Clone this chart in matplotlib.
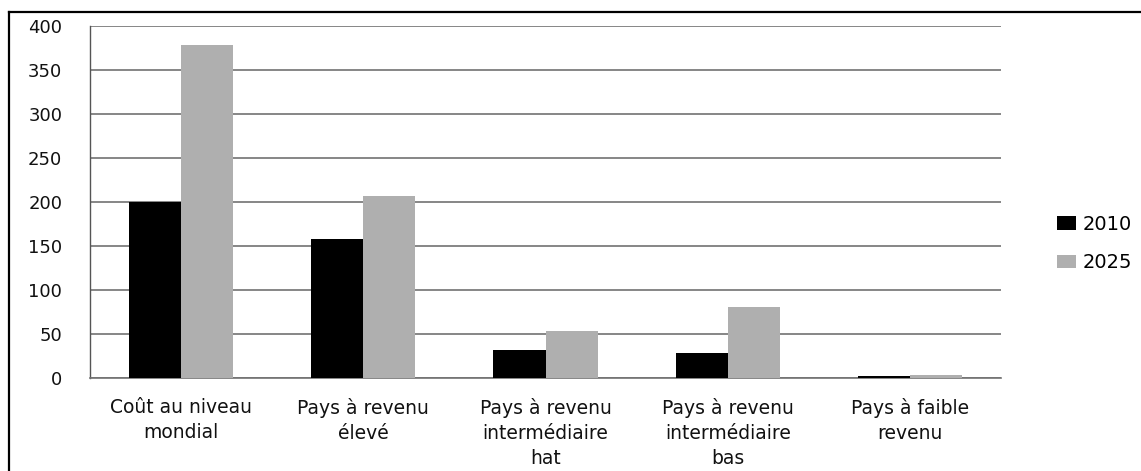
import numpy as np
import matplotlib
matplotlib.use('Agg')
from matplotlib import pyplot as plt
from matplotlib.lines import Line2D

# Coût (milliards) par groupe de pays
categories = ['Coût au niveau\nmondial', 'Pays à revenu\nélevé',
              'Pays à revenu\nintermédiaire\nhat', 'Pays à revenu\nintermédiaire\nbas',
              'Pays à faible\nrevenu']
val_2010 = [200, 158, 31, 28, 2]
val_2025 = [378, 207, 53, 80, 3]
series_names = ['2010', '2025']
yticks = [0, 50, 100, 150, 200, 250, 300, 350, 400]

plt.rcParams['font.family'] = ['DejaVu Sans']

fig = plt.figure(figsize=(11.41, 4.71), dpi=100)
ax = fig.add_axes([90/1141, 1 - 377.7/471, 911/1141, 352/471])

x = np.arange(len(categories))
w = 0.286
b1 = ax.bar(x - w/2, val_2010, w, color='black', zorder=3, label=series_names[0])
b2 = ax.bar(x + w/2, val_2025, w, color='#afafaf', zorder=3, label=series_names[1])

ax.set_xlim(-0.5, len(categories) - 0.5)
ax.set_ylim(0, 400)
ax.set_yticks(yticks)
ax.set_yticklabels([str(t) for t in yticks], fontsize=13, color='#111111')
ax.set_xticks(x)
ax.set_xticklabels(categories, fontsize=13.5, color='#111111', linespacing=1.4)
ax.tick_params(axis='y', length=0, pad=20)
ax.tick_params(axis='x', length=0, pad=14.5)

ax.grid(axis='y', color='#727272', linewidth=1.2, zorder=1)
ax.set_axisbelow(True)
for s in ['top', 'right']:
    ax.spines[s].set_visible(False)
ax.spines['left'].set_color('#555555')
ax.spines['left'].set_linewidth(1.0)
ax.spines['bottom'].set_color('#727272')
ax.spines['bottom'].set_linewidth(1.2)

fig.legend(handles=[b1, b2], labels=series_names, loc='center left',
           bbox_to_anchor=(1047/1141, 1 - 243.5/471), frameon=False,
           fontsize=14, handlelength=1.0, handleheight=0.7,
           handletextpad=0.35, labelspacing=1.0, borderpad=0)

# cadre autour de la figure
fig.add_artist(Line2D([9.3/1141, 1.0], [1 - 12.3/471, 1 - 12.3/471],
                      transform=fig.transFigure, color='black', linewidth=1.6))
fig.add_artist(Line2D([9.3/1141, 9.3/1141], [0, 1 - 12.3/471],
                      transform=fig.transFigure, color='black', linewidth=1.6))

fig.savefig('out.png', dpi=100)
